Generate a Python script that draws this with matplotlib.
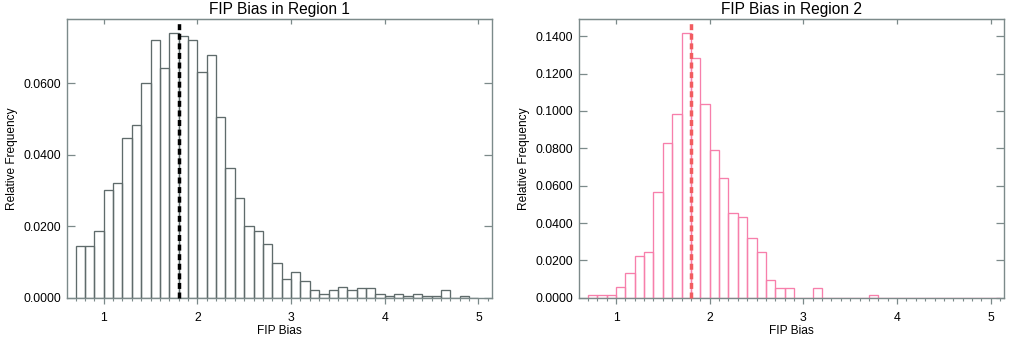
import numpy as np
import matplotlib
matplotlib.use("Agg")
import matplotlib.pyplot as plt

plt.rcParams['font.family'] = ['Liberation Sans', 'DejaVu Sans']
plt.rcParams['lines.scale_dashes'] = False

# ---- data ----
bin_width = 0.1
left_edges_r1 = [0.7, 0.8, 0.9, 1.0, 1.1, 1.2, 1.3, 1.4, 1.5, 1.6, 1.7, 1.8, 1.9,
                 2.0, 2.1, 2.2, 2.3, 2.4, 2.5, 2.6, 2.7, 2.8, 2.9, 3.0, 3.1, 3.2,
                 3.3, 3.4, 3.5, 3.6, 3.7, 3.8, 3.9, 4.0, 4.1, 4.2, 4.3, 4.4, 4.5,
                 4.6, 4.7, 4.8, 4.9]
freq_r1 = [0.0145, 0.0145, 0.0187, 0.0300, 0.0322, 0.0447, 0.0482, 0.0601, 0.0720,
           0.0643, 0.0741, 0.0732, 0.0720, 0.0632, 0.0680, 0.0507, 0.0364, 0.0280,
           0.0201, 0.0186, 0.0150, 0.0098, 0.0052, 0.0073, 0.0047, 0.0021, 0.0010,
           0.0021, 0.0031, 0.0021, 0.0026, 0.0026, 0.0010, 0.0006, 0.0010, 0.0006,
           0.0010, 0.0006, 0.0006, 0.0021, 0.0000, 0.0006, 0.0000]

left_edges_r2 = [0.7, 0.8, 0.9, 1.0, 1.1, 1.2, 1.3, 1.4, 1.5, 1.6, 1.7, 1.8, 1.9,
                 2.0, 2.1, 2.2, 2.3, 2.4, 2.5, 2.6, 2.7, 2.8, 2.9, 3.0, 3.1, 3.2,
                 3.3, 3.4, 3.5, 3.6, 3.7, 3.8, 3.9, 4.0, 4.1, 4.2, 4.3, 4.4, 4.5,
                 4.6, 4.7, 4.8, 4.9, 5.0]
freq_r2 = [0.0016, 0.0016, 0.0016, 0.0055, 0.0130, 0.0225, 0.0246, 0.0566, 0.0830,
           0.0982, 0.1418, 0.1284, 0.1039, 0.0793, 0.0641, 0.0452, 0.0432, 0.0320,
           0.0245, 0.0093, 0.0054, 0.0054, 0.0000, 0.0000, 0.0054, 0.0000, 0.0000,
           0.0000, 0.0000, 0.0000, 0.0016, 0.0000, 0.0000, 0.0000, 0.0000, 0.0000,
           0.0000, 0.0000, 0.0000, 0.0000, 0.0000, 0.0000, 0.0000, 0.0000]

median_r1 = 1.8
median_r2 = 1.8
titles = ["FIP Bias in Region 1", "FIP Bias in Region 2"]
xticks = [1, 2, 3, 4, 5]
yticks_r1 = [0.0, 0.02, 0.04, 0.06]
yticks_r2 = [0.0, 0.02, 0.04, 0.06, 0.08, 0.10, 0.12, 0.14]

# ---- figure ----
W, H = 1024, 340
fig = plt.figure(figsize=(W / 100, H / 100), dpi=100)

spine_col = '#7c8a8a'

def make_ax(x0px):
    return fig.add_axes([x0px / W, 42.3 / H, 425.3 / W, 278.4 / H])

panels = [
    (66.7, left_edges_r1, freq_r1, '#5f6b6b', 'black', median_r1, yticks_r1, 0.0779, titles[0]),
    (579.0, left_edges_r2, freq_r2, '#f77fab', '#f25c60', median_r2, yticks_r2, 0.1491, titles[1]),
]

for x0, edges, freqs, ecol, dcol, med, yt, ymax, title in panels:
    ax = make_ax(x0)
    ax.bar(edges, freqs, width=bin_width, align='edge', fill=False,
           edgecolor=ecol, linewidth=0.95, zorder=2)
    ax.plot([med, med], [0, ymax * 0.985], color=dcol, linewidth=2.5,
            dashes=(4.3, 2.6), zorder=3, clip_on=False)
    ax.set_xlim(0.605, 5.145)
    ax.set_ylim(0, ymax)
    ax.set_xticks(xticks)
    ax.set_xticklabels([str(t) for t in xticks])
    ax.set_xticks(np.round(np.arange(0.7, 5.15, 0.1), 1), minor=True)
    ax.set_yticks(yt)
    ax.set_yticklabels(['%.4f' % v for v in yt])
    for s in ax.spines.values():
        s.set_color(spine_col)
        s.set_linewidth(1.0)
    ax.tick_params(axis='x', which='major', direction='out', length=4.1, width=0.9,
                   color=spine_col, labelsize=8.8, pad=6.5, top=False)
    ax.tick_params(axis='x', which='minor', direction='out', length=2.2, width=0.8,
                   color=spine_col, top=False)
    ax.tick_params(axis='y', which='major', direction='in', length=5.5, width=0.9,
                   color=spine_col, labelsize=8.8, pad=4.0, right=True)
    sec = ax.secondary_xaxis('top')
    sec.set_xticks(xticks)
    sec.tick_params(direction='in', length=3.4, width=0.9, color=spine_col,
                    labeltop=False)
    sec.spines['top'].set_color(spine_col)
    ax.set_title(title, fontsize=11.2, pad=4)
    ax.set_xlabel('FIP Bias', fontsize=8.6)
    ax.set_ylabel('Relative Frequency', fontsize=8.6)
    ax.xaxis.set_label_coords(0.5, -0.098)
    ax.yaxis.set_label_coords(-0.1145, 0.5)

fig.savefig('out.png', dpi=100)
